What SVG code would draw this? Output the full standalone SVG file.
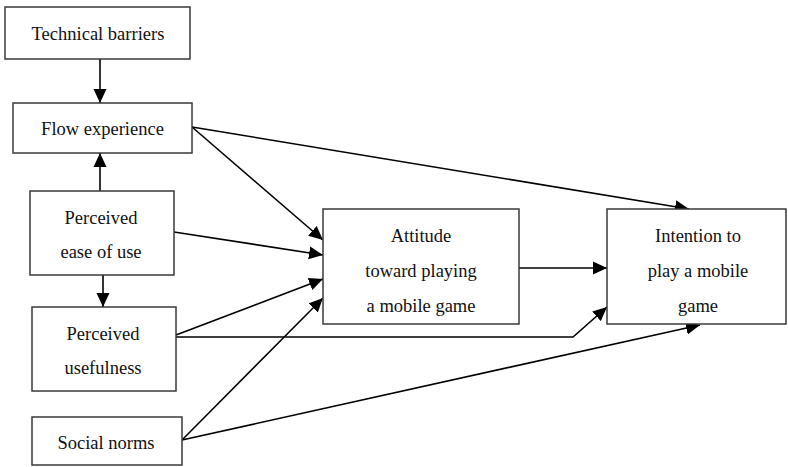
<svg xmlns="http://www.w3.org/2000/svg" width="788" height="467" viewBox="0 0 788 467">
<style>
.box{fill:#fff;stroke:#3a3a3a;stroke-width:1.5}
.t{font-family:"Liberation Serif","Times New Roman",serif;font-size:18.5px;fill:#111;text-anchor:middle}
.c{fill:none;stroke:#000;stroke-width:1.6}
</style>
<defs>
<marker id="ah" markerUnits="userSpaceOnUse" markerWidth="15" markerHeight="14" refX="14" refY="7" orient="auto">
<path d="M0,0.5 L14,7 L0,13.5 Z" fill="#000"/>
</marker>
</defs>
<rect width="788" height="467" fill="#fff"/>
<g id="connectors">
<path class="c" d="M100,59 L100,103" marker-end="url(#ah)"/>
<path class="c" d="M100,191 L100,153" marker-end="url(#ah)"/>
<path class="c" d="M103,275 L103,307" marker-end="url(#ah)"/>
<path class="c" d="M192,127 L689,209" marker-end="url(#ah)"/>
<path class="c" d="M192,127 L323,240" marker-end="url(#ah)"/>
<path class="c" d="M174,232 L323,255" marker-end="url(#ah)"/>
<path class="c" d="M176,335 L323,279" marker-end="url(#ah)"/>
<path class="c" d="M182,440 L323,298" marker-end="url(#ah)"/>
<path class="c" d="M176,337 L573,337 L607,307" marker-end="url(#ah)"/>
<path class="c" d="M182,440 L700,325" marker-end="url(#ah)"/>
<path class="c" d="M519,268 L607,268" marker-end="url(#ah)"/>
</g>
<g id="technical-barriers">
<rect class="box" x="5" y="7" width="185" height="52"/>
<text class="t" x="98" y="40">Technical barriers</text>
</g>
<g id="flow-experience">
<rect class="box" x="13" y="103" width="179" height="50"/>
<text class="t" x="102.5" y="135">Flow experience</text>
</g>
<g id="perceived-ease-of-use">
<rect class="box" x="30" y="191" width="144" height="84"/>
<text class="t" x="101" y="224">Perceived</text>
<text class="t" x="101" y="258">ease of use</text>
</g>
<g id="perceived-usefulness">
<rect class="box" x="32" y="307" width="144" height="84"/>
<text class="t" x="103" y="340">Perceived</text>
<text class="t" x="103" y="374">usefulness</text>
</g>
<g id="social-norms">
<rect class="box" x="32" y="417" width="150" height="48"/>
<text class="t" x="106" y="449">Social norms</text>
</g>
<g id="attitude">
<rect class="box" x="323" y="209" width="196" height="115"/>
<text class="t" x="421" y="242">Attitude</text>
<text class="t" x="421" y="277">toward playing</text>
<text class="t" x="421" y="312">a mobile game</text>
</g>
<g id="intention">
<rect class="box" x="607" y="209" width="179" height="115"/>
<text class="t" x="698" y="242">Intention to</text>
<text class="t" x="698" y="277">play a mobile</text>
<text class="t" x="698" y="312">game</text>
</g>
</svg>
